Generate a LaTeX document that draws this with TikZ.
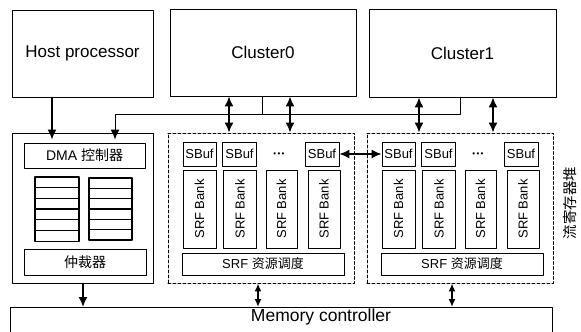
\documentclass[tikz,border=0pt]{standalone}
\usepackage{fontspec}
\setmainfont{Liberation Sans}
\newfontfamily\cjk{Noto Sans CJK SC}
\usetikzlibrary{arrows.meta}
\begin{document}
\begin{tikzpicture}[x=1pt,y=-1pt, line join=round, line cap=round,font=\fontsize{13}{15}\selectfont,>={Latex[length=10pt,width=9pt]},
        box/.style={draw,line width=0.9pt,inner sep=0pt},
        blk/.style={draw,line width=0.9pt,dash pattern=on 3pt off 2pt,inner sep=0pt},
        arr/.style={line width=1.6pt},
        big/.style={font=\fontsize{17}{19}\selectfont}]
                \useasboundingbox (0,0) rectangle (581,332);
                \node[box,big,minimum width=141pt,minimum height=87pt] (host) at (82.5,53.5) {Host processor};
                \node[box,big,minimum width=186pt,minimum height=87pt] (cl0) at (263,52.5) {Cluster0};
                \node[box,big,minimum width=187pt,minimum height=88pt] (cl1) at (462.5,53) {Cluster1};
                \node[box,minimum width=141pt,minimum height=150pt] (dmablk) at (82.5,208) {};
                \node[box,minimum width=121pt,minimum height=25pt,font=\fontsize{14}{16}\selectfont] (dma) at (84.5,155.5) {DMA {\cjk 控制器}};
                \foreach \i in {0,...,5} {
                \node[box,line width=1.3pt,minimum width=44pt,minimum height=10.7pt] (rega\i) at (57,182.3+10.7*\i) {};
                \node[box,line width=1.3pt,minimum width=43pt,minimum height=10.3pt] (regb\i) at (110.5,183.2+10.3*\i) {};
                }
                \node[box,minimum width=122pt,minimum height=26pt,font=\fontsize{14}{16}\selectfont] (arb) at (85,262) {{\cjk 仲裁器}};
                \foreach \b/\bx in {0/168,1/367} {
                \node[blk,minimum width=186.5pt,minimum height=150pt] (srf\b) at (\bx+93.2,208) {};
                \foreach \k/\o/\w in {1/31.5/33,2/71.5/34,4/154/34}
                \node[box,minimum width=\w pt,minimum height=24pt] (sbuf\b\k) at (\bx+\o,154) {SBuf};
                \node[font=\fontsize{8}{9}\selectfont] (dots\b) at (\bx+111,155) {\textbullet\,\textbullet\,\textbullet};
                \foreach \k/\o/\w in {1/31.5/33,2/72/33,3/113.5/31,4/156/32}
                \node[box,rotate=90,minimum width=78pt,minimum height=\w pt] (bank\b\k) at (\bx+\o,209) {SRF Bank};
                \node[box,minimum width=162pt,minimum height=22pt] (sch\b) at (\bx+95,264) {SRF {\cjk 资源调度}};
                }
                \node[rotate=90,font=\fontsize{14.5}{16}\selectfont] (srflbl) at (570,203) {{\cjk 流寄存器堆}};
                \node[box,anchor=north,minimum width=542pt,minimum height=40pt,
                label={[anchor=north,xshift=40pt,inner sep=1.5pt,font=\fontsize{17.5}{19}\selectfont]north:Memory controller}] (mem) at (281,307) {};
                \coordinate (hx) at (52,0);
                \coordinate (bus0) at (262,114);
                \coordinate (bus1) at (460,114);
                \coordinate (busd) at (115,114);
                \draw[arr,->,shorten >=3pt] (hx |- host.south) -- (hx |- dma.north);
                \draw[line width=1pt,->,shorten >=3pt] (bus1 |- cl1.south) -- (bus1) -- (busd) -- (busd |- dma.north);
                \draw[line width=1pt] (bus0 |- cl0.south) -- (bus0);
                \foreach \x/\t in {229/0,290/0,419/1,493/1} {
                \coordinate (up\x) at (\x,0);
                \draw[arr,<->] (up\x |- cl\t.south) -- (up\x |- srf\t.north);
                }
                \draw[arr,<->] (sbuf04.east) -- (sbuf11.west);
                \coordinate (md) at (83,0);
                \draw[arr,->] (md |- dmablk.south) -- (md |- mem.north);
                \foreach \x/\t in {258/0,452/1} {
                \coordinate (dn\x) at (\x,0);
                \draw[arr,<->,>={Latex[length=8pt,width=7pt]}] (dn\x |- srf\t.south) -- (dn\x |- mem.north);
                }
        \end{tikzpicture}
\end{document}
